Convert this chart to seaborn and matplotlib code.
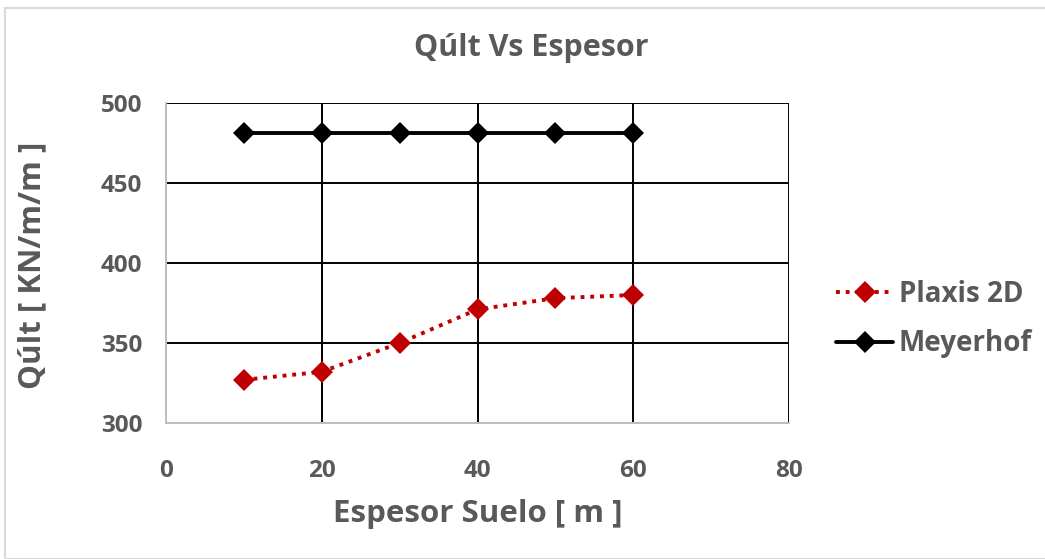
import matplotlib
matplotlib.use("Agg")
import matplotlib.pyplot as plt
import seaborn as sns
import pandas as pd
from matplotlib.patches import Rectangle

# Data
espesor = [10, 20, 30, 40, 50, 60]
plaxis_2d = [327, 332, 350, 371, 378, 380]
meyerhof = [481, 481, 481, 481, 481, 481]
x_ticks = [0, 20, 40, 60, 80]
y_ticks = [300, 350, 400, 450, 500]

df = pd.DataFrame({
    "Espesor": espesor * 2,
    "Qult": plaxis_2d + meyerhof,
    "Serie": ["Plaxis 2D"] * len(espesor) + ["Meyerhof"] * len(espesor),
})

sns.set_theme(style="white")
plt.rcParams["font.family"] = ["Open Sans", "DejaVu Sans"]
plt.rcParams["font.weight"] = "bold"
text_color = "#595959"

W, H = 1045, 559
fig = plt.figure(figsize=(W / 100, H / 100), dpi=100)
ax = fig.add_axes([166 / W, 1 - 423 / H, (789 - 166) / W, (423 - 103) / H])

# Chart frame
fig.patches.append(Rectangle((5 / W, 0), 1.2, 1 - 8 / H, transform=fig.transFigure,
                             fill=False, edgecolor="#d9d9d9", linewidth=1.5, zorder=0))

palette = {"Plaxis 2D": "#c00000", "Meyerhof": "#000000"}
sns.lineplot(data=df[df["Serie"] == "Plaxis 2D"], x="Espesor", y="Qult", ax=ax,
             color=palette["Plaxis 2D"], linestyle=(0, (1, 1.5)), linewidth=2.8,
             marker="D", markersize=11, markeredgewidth=0, label="Plaxis 2D", zorder=4)
sns.lineplot(data=df[df["Serie"] == "Meyerhof"], x="Espesor", y="Qult", ax=ax,
             color=palette["Meyerhof"], linestyle="-", linewidth=2.8,
             marker="D", markersize=11, markeredgewidth=0, label="Meyerhof", zorder=4)

ax.set_xlim(0, 80)
ax.set_ylim(300, 500)
ax.set_xticks(x_ticks)
ax.set_yticks(y_ticks)
ax.grid(True, color="black", linewidth=1.4, zorder=1)
ax.set_axisbelow(True)

for side in ["top", "right"]:
    ax.spines[side].set_visible(False)
for side in ["left", "bottom"]:
    ax.spines[side].set_color("#bfbfbf")
    ax.spines[side].set_linewidth(1.4)

ax.tick_params(axis="both", direction="out", length=5, width=1.2, color="black",
               labelsize=17.5, labelcolor=text_color)
ax.tick_params(axis="x", pad=21)
ax.tick_params(axis="y", pad=12)
for lbl in ax.get_xticklabels() + ax.get_yticklabels():
    lbl.set_fontweight("bold")

ax.set_xlabel("Espesor Suelo [ m ]", fontsize=22.5, fontweight="bold", color=text_color)
ax.set_ylabel("Qúlt [ KN/m/m ]", fontsize=22.5, fontweight="bold", color=text_color)
ax.xaxis.set_label_coords((478 - 166) / (789 - 166), -(499 - 423) / (423 - 103))
ax.yaxis.set_label_coords(-(166 - 47) / (789 - 166), (423 - 265) / (423 - 103))
fig.text(531 / W, 1 - 48 / H, "Qúlt Vs Espesor", ha="center", va="center",
         fontsize=22, fontweight="bold", color=text_color)

leg = ax.legend(loc="center left", bbox_to_anchor=(1.036, 0.325), frameon=False,
                fontsize=20, handlelength=2.05, handletextpad=0.2, labelspacing=0.75)
for t in leg.get_texts():
    t.set_color(text_color)
    t.set_fontweight("bold")

fig.savefig("out.png", dpi=100)
